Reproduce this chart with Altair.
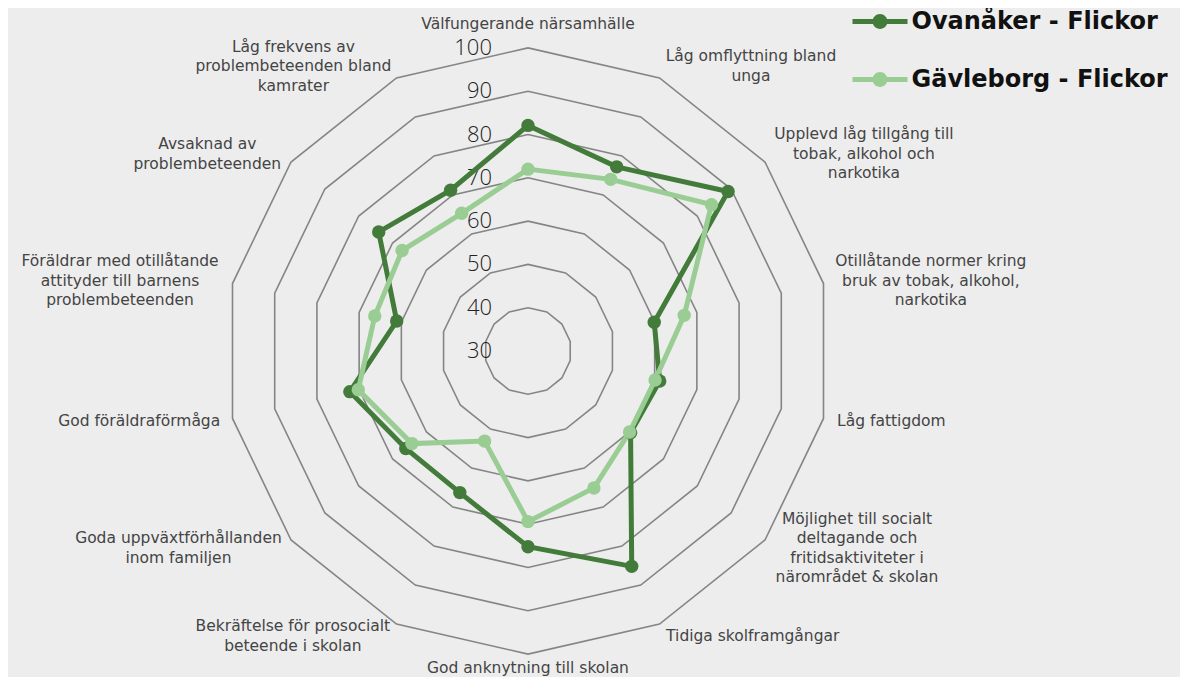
import math
import altair as alt
import pandas as pd

categories = [
    "Välfungerande närsamhälle",
    "Låg omflyttning bland\nunga",
    "Upplevd låg tillgång till\ntobak, alkohol och\nnarkotika",
    "Otillåtande normer kring\nbruk av tobak, alkohol,\nnarkotika",
    "Låg fattigdom",
    "Möjlighet till socialt\ndeltagande och\nfritidsaktiviteter i\nnärområdet & skolan",
    "Tidiga skolframgångar",
    "God anknytning till skolan",
    "Bekräftelse för prosocialt\nbeteende i skolan",
    "Goda uppväxtförhållanden\ninom familjen",
    "God föräldraförmåga",
    "Föräldrar med otillåtande\nattityder till barnens\nproblembeteenden",
    "Avsaknad av\nproblembeteenden",
    "Låg frekvens av\nproblembeteenden bland\nkamrater",
]
ovanaker = [82.1, 77.2, 89.1, 59.9, 61.2, 60.3, 85.2, 75.2, 66.3, 66.1, 72.2, 61.1, 74.1, 71.2]
gavleborg = [72.0, 74.0, 84.2, 67.0, 60.1, 60.0, 65.1, 69.4, 53.1, 64.3, 70.2, 66.3, 67.2, 65.3]
series_names = ["Ovanåker - Flickor", "Gävleborg - Flickor"]
series_colors = ["#437b3a", "#9acd93"]
ring_values = [30, 40, 50, 60, 70, 80, 90, 100]

R_MIN = 30
N = len(categories)
K = 4.33  # px per unit
W, H = 1172, 669
CX, CY = 520, 343
LABEL_FONT = "DejaVu Sans"
LABEL_SIZE = 15.5
LINE_H = 19.5

# approximate DejaVu Sans advance widths (em) for estimating label block widths
_NARROW = {"i": .278, "l": .278, "j": .278, "t": .392, "f": .352, "r": .411,
           " ": .318, ",": .318, ".": .318, "s": .521, "c": .55, "k": .579,
           "v": .592, "y": .592, "x": .592, "m": .974, "&": .78, "-": .361}
def text_width(line, size):
    w = 0.0
    for ch in line:
        if ch in _NARROW:
            w += _NARROW[ch]
        elif ch.isupper():
            w += 0.70
        else:
            w += 0.62
    return w * size

def ang(i):
    return 2 * math.pi * i / N

rows = []
for s, vals in zip(series_names, [ovanaker, gavleborg]):
    for j in range(N + 1):
        i = j % N
        r = vals[i] - R_MIN
        rows.append({"series": s, "order": j, "value": vals[i],
                     "x": r * math.sin(ang(i)), "y": r * math.cos(ang(i))})
series_df = pd.DataFrame(rows)

grid_rows = []
for v in ring_values[1:]:
    for j in range(N + 1):
        i = j % N
        r = v - R_MIN
        grid_rows.append({"ring": v, "order": j, "x": r * math.sin(ang(i)), "y": r * math.cos(ang(i))})
grid_df = pd.DataFrame(grid_rows)

ring_lab_df = pd.DataFrame({"label": [str(v) for v in ring_values],
                            "x": [0.0] * len(ring_values),
                            "y": [v - R_MIN for v in ring_values]})

lab_rows = []
for i, c in enumerate(categories):
    s = math.sin(ang(i))
    co = math.cos(ang(i))
    lines = c.split("\n")
    bw = max(text_width(l, LABEL_SIZE) for l in lines) / K
    shift = (len(lines) - 1) * LINE_H / 2 / K  # centre the block vertically
    if abs(s) < 1e-6:
        r = 75.6 if co > 0 else 73.3
        x, y = 0.0, r * co
    else:
        r = 73
        x = r * s + (bw / 2 if s > 0 else -bw / 2)
        y = r * co
    lab_rows.append({"label": c, "x": x, "y": y + shift})
lab_df = pd.DataFrame(lab_rows)

xs = alt.Scale(domain=[-CX / K, (W - CX) / K], nice=False, zero=False)
ys = alt.Scale(domain=[-(H - CY) / K, CY / K], nice=False, zero=False)
X = alt.X("x:Q", scale=xs, axis=None)
Y = alt.Y("y:Q", scale=ys, axis=None)

grid = alt.Chart(grid_df).mark_line(color="#858585", strokeWidth=1.6).encode(
    x=X, y=Y, detail="ring:N", order="order:Q")

ring_labels = alt.Chart(ring_lab_df).mark_text(
    align="right", baseline="middle", dx=-36, font="Open Sans", fontSize=22,
    fontWeight=300, color="#222222").encode(x=X, y=Y, text="label:N")

axis_labels = alt.Chart(lab_df).mark_text(
    align="center", baseline="middle", lineBreak="\n", lineHeight=LINE_H,
    font=LABEL_FONT, fontSize=LABEL_SIZE, color="#444444").encode(x=X, y=Y, text="label:N")

legend_path = ("M-1,-0.09H1V0.09H-1Z "
               "M0.27,0A0.27,0.27 0 1 1 -0.27,0A0.27,0.27 0 1 1 0.27,0Z")
legend = alt.Legend(orient="none", legendX=844.5, legendY=-14, title=None,
                    symbolType=legend_path, symbolSize=3025, symbolStrokeWidth=0,
                    symbolOpacity=1,
                    labelFont=LABEL_FONT, labelFontWeight="bold", labelFontSize=24,
                    labelColor="#111111", labelOffset=4, rowPadding=18, padding=0,
                    labelLimit=400)
color_scale = alt.Scale(domain=series_names, range=series_colors)

line_layers = []
for s in series_names:
    line_layers.append(alt.Chart(series_df).transform_filter(alt.datum.series == s).mark_line(
        strokeWidth=5).encode(x=X, y=Y, order="order:Q",
                              color=alt.Color("series:N", scale=color_scale, legend=None)))
points = alt.Chart(series_df).transform_filter(alt.datum.order < N).mark_point(
    filled=True, size=180, opacity=1).encode(
    x=X, y=Y, color=alt.Color("series:N", scale=color_scale, legend=legend))

chart = alt.layer(grid, ring_labels, axis_labels, *line_layers, points).resolve_legend(
    color="independent"
).properties(
    width=W, height=H, autosize=alt.AutoSizeParams(type="none"), padding=0,
    background="#ededed"
).configure_view(stroke=None)

chart.save("out.html", embed_options={"renderer": "svg", "actions": False})
